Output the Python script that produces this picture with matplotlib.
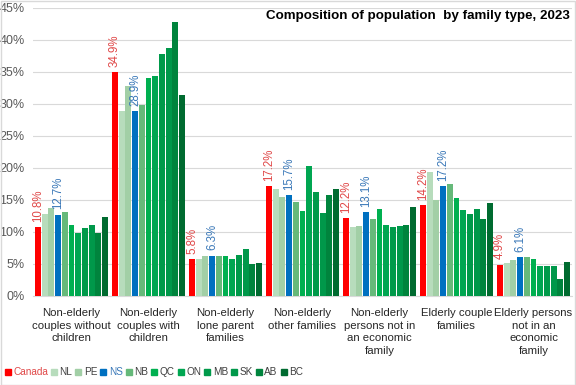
import matplotlib.pyplot as plt
import numpy as np
from matplotlib.lines import Line2D

plt.rcParams['font.family'] = ['Liberation Sans', 'DejaVu Sans']

categories = ['Non-elderly\ncouples without\nchildren', 'Non-elderly\ncouples with\nchildren',
              'Non-elderly\nlone parent\nfamilies', 'Non-elderly\nother families',
              'Non-elderly\npersons not in\nan economic\nfamily', 'Elderly couple\nfamilies',
              'Elderly persons\nnot in an\neconomic\nfamily']
regions = ['Canada', 'NL', 'PE', 'NS', 'NB', 'QC', 'ON', 'MB', 'SK', 'AB', 'BC']

# values in %, one list per region, across the 7 family types
values = {
    'Canada': [10.8, 34.9, 5.8, 17.2, 12.2, 14.2, 4.9],
    'NL':     [12.8, 28.9, 5.7, 16.7, 10.8, 19.4, 5.1],
    'PE':     [13.8, 32.8, 6.3, 15.4, 10.9, 15.0, 5.6],
    'NS':     [12.7, 28.9, 6.3, 15.7, 13.1, 17.2, 6.1],
    'NB':     [13.1, 29.8, 6.3, 14.7, 12.0, 17.4, 6.1],
    'QC':     [11.0, 34.0, 6.3, 13.3, 13.6, 15.3, 5.8],
    'ON':     [9.9, 34.3, 5.7, 20.3, 11.1, 13.4, 4.7],
    'MB':     [10.6, 37.8, 6.4, 16.2, 10.8, 12.8, 4.7],
    'SK':     [11.1, 38.7, 7.4, 13.0, 10.9, 13.6, 4.7],
    'AB':     [9.9, 42.8, 5.0, 15.7, 11.1, 12.0, 2.7],
    'BC':     [12.4, 31.3, 5.2, 16.7, 13.9, 14.5, 5.3],
}
labelled = ['Canada', 'NS']

colors = {'Canada': '#ff0000', 'NL': '#b7dcbc', 'PE': '#a2cfa6', 'NS': '#0070c0',
          'NB': '#66b97a', 'QC': '#00b050', 'ON': '#00a651', 'MB': '#009a4a',
          'SK': '#00984a', 'AB': '#00843d', 'BC': '#006b30'}
label_colors = {'Canada': '#e04848', 'NS': '#3a78b8'}

fig = plt.figure(figsize=(5.76, 3.85), dpi=100)
fig.patches.append(plt.Rectangle((0.001, 0.001), 0.998, 0.997, transform=fig.transFigure,
                                 fill=False, edgecolor='#d9d9d9', linewidth=1))
ax = fig.add_axes([33 / 576, 1 - 296 / 385, 539 / 576, 288.5 / 385])

x = np.arange(len(categories))
width = 0.087
for i, r in enumerate(regions):
    offs = (i - (len(regions) - 1) / 2) * width
    ax.bar(x + offs, values[r], width * 0.88, color=colors[r], zorder=3)
    if r in labelled:
        for xi, v in zip(x, values[r]):
            ax.text(xi + offs, v + 0.8, f'{v:.1f}%', rotation=90, ha='center', va='bottom',
                    fontsize=8.3, color=label_colors[r])

ax.set_xlim(-0.5, len(categories) - 0.5)
ax.set_ylim(0, 45)
ax.set_yticks(np.arange(0, 46, 5))
ax.set_yticklabels([f'{t}%' for t in range(0, 46, 5)], fontsize=9, color='#595959')
ax.yaxis.grid(True, color='#d9d9d9', linewidth=0.8, zorder=0)
ax.set_xticks(x)
ax.set_xticklabels(categories, fontsize=8.2, color='#262626', linespacing=1.3, va='top')
ax.tick_params(axis='both', length=0)
ax.tick_params(axis='x', pad=9)
ax.tick_params(axis='y', pad=6)
for s in ['top', 'right', 'left']:
    ax.spines[s].set_visible(False)
ax.spines['bottom'].set_color('#d9d9d9')

fig.text(570 / 576, 1 - 16 / 385, 'Composition of population  by family type, 2023',
         ha='right', va='center', fontsize=9.6, fontweight='bold', color='black')

handles = [Line2D([], [], marker='s', linestyle='none', markersize=4.5, color=colors[r]) for r in regions]
leg = fig.legend(handles, regions, loc='center left', bbox_to_anchor=(5 / 576, 1 - 372 / 385),
                 ncol=len(regions), frameon=False, fontsize=7.2, handlelength=0.5, handletextpad=0.3,
                 columnspacing=0.35, borderaxespad=0, borderpad=0)
for t, r in zip(leg.get_texts(), regions):
    t.set_color(label_colors.get(r, '#404040'))

fig.savefig('out.png', dpi=100)
